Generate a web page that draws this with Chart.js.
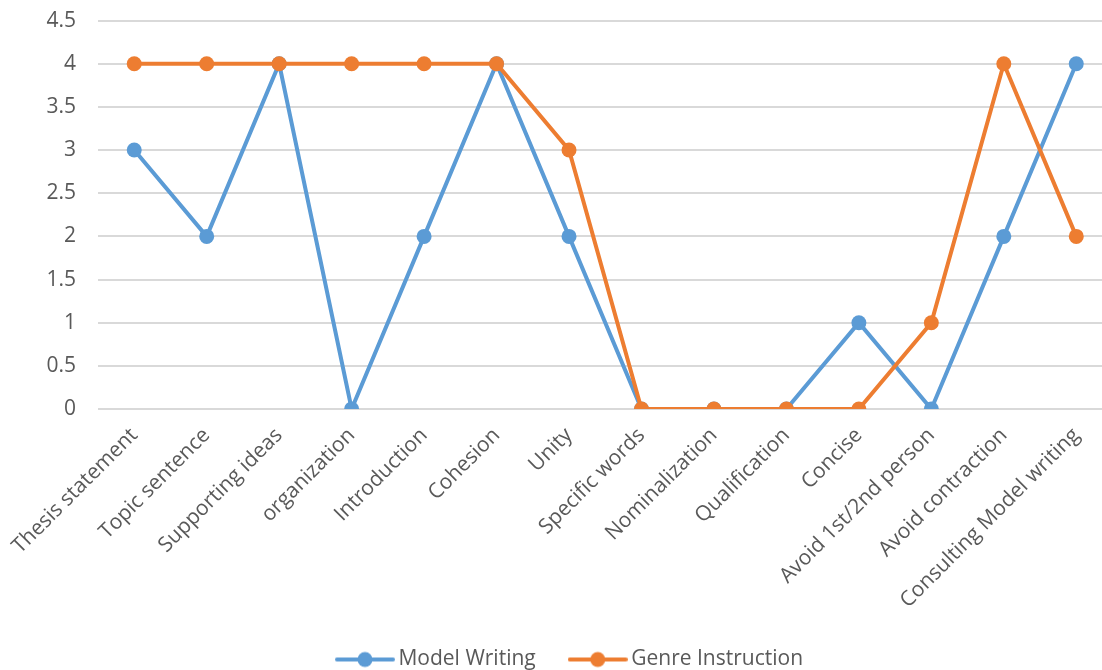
<!DOCTYPE html>
<html>
<head>
<meta charset="utf-8">
<script src="https://cdn.jsdelivr.net/npm/chart.js@4/dist/chart.umd.min.js"></script>
<style>
  html, body { margin: 0; padding: 0; background: #fff; overflow: hidden; }
  #wrap { width: 1102px; height: 670px; overflow: hidden; position: relative; }
  #box { width: 1120px; height: 693px; position: absolute; left: 0; top: -14px; }
</style>
</head>
<body>
<div id="wrap"><div id="box"><canvas id="c"></canvas></div></div>
<script>
const categories = ["Thesis statement", "Topic sentence", "Supporting ideas", "organization", "Introduction", "Cohesion", "Unity", "Specific words", "Nominalization", "Qualification", "Concise", "Avoid 1st/2nd person", "Avoid contraction", "Consulting Model writing"];
const modelWriting = [3, 2, 4, 0, 2, 4, 2, 0, 0, 0, 1, 0, 2, 4];
const genreInstruction = [4, 4, 4, 4, 4, 4, 3, 0, 0, 0, 0, 1, 4, 2];
const yTicks = [0, 0.5, 1, 1.5, 2, 2.5, 3, 3.5, 4, 4.5];

const BLUE = '#5B9BD5';
const ORANGE = '#ED7D31';
const FONT = "'Open Sans', 'Liberation Sans', sans-serif";

function legendIcon(color) {
  const cv = document.createElement('canvas');
  cv.width = 60; cv.height = 18;
  const g = cv.getContext('2d');
  g.strokeStyle = color; g.lineWidth = 4; g.lineCap = 'round';
  g.beginPath(); g.moveTo(2, 9); g.lineTo(58, 9); g.stroke();
  g.fillStyle = color;
  g.beginPath(); g.arc(30, 9, 7.5, 0, Math.PI * 2); g.fill();
  return cv;
}

const legendShift = {
  id: 'legendShift',
  afterLayout(chart) {
    const lg = chart.legend;
    if (!lg) return;
    lg.left += 14; lg.right += 14;
    lg.top += 3; lg.bottom += 3;
  }
};

new Chart(document.getElementById('c'), {
  type: 'line',
  data: {
    labels: categories,
    datasets: [
      { label: 'Model Writing', data: modelWriting, borderColor: BLUE, backgroundColor: BLUE,
        borderWidth: 4, pointRadius: 7.5, pointHoverRadius: 7.5, pointBorderWidth: 0, tension: 0, order: 1,
        pointStyle: 'circle' },
      { label: 'Genre Instruction', data: genreInstruction, borderColor: ORANGE, backgroundColor: ORANGE,
        borderWidth: 4, pointRadius: 7.5, pointHoverRadius: 7.5, pointBorderWidth: 0, tension: 0, order: 0,
        pointStyle: 'circle' }
    ]
  },
  plugins: [legendShift],
  options: {
    responsive: true,
    maintainAspectRatio: false,
    animation: false,
    layout: { padding: { top: 10, right: 3, bottom: 2, left: 0 } },
    plugins: {
      tooltip: { enabled: false },
      legend: {
        position: 'bottom',
        labels: {
          usePointStyle: true,
          pointStyleWidth: 46,
          boxHeight: 18,
          padding: 39,
          color: '#595959',
          font: { family: FONT, size: 21 },
          generateLabels: (chart) => chart.data.datasets.map((ds, i) => ({
            text: ds.label,
            fillStyle: ds.borderColor,
            strokeStyle: ds.borderColor,
            fontColor: '#595959',
            lineWidth: 0,
            pointStyle: legendIcon(ds.borderColor),
            hidden: false,
            datasetIndex: i
          }))
        }
      }
    },
    scales: {
      x: {
        offset: true,
        grid: { display: false },
        border: { display: false },
        ticks: {
          color: '#595959', font: { family: FONT, size: 21 },
          minRotation: 45, maxRotation: 45, autoSkip: false, padding: 6
        },
        afterFit: (s) => { s.height = 198; }
      },
      y: {
        min: 0, max: 4.5,
        afterBuildTicks: (s) => { s.ticks = yTicks.map(v => ({ value: v })); },
        grid: { color: '#d9d9d9', lineWidth: 2, drawTicks: false },
        border: { display: false },
        ticks: { color: '#595959', font: { family: FONT, size: 21 }, padding: 22,
          callback: (v) => String(v) },
        afterFit: (s) => { s.width = 98; }
      }
    }
  }
});
</script>
</body>
</html>
